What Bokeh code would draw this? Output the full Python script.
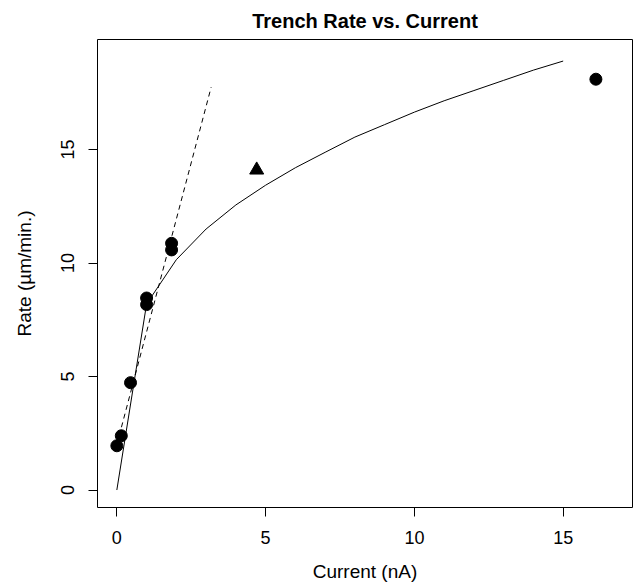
from bokeh.plotting import figure
from bokeh.models import FixedTicker, Range1d
from bokeh.embed import file_html
from bokeh.resources import INLINE

# Measured data (circles)
cur_pts = [0.0, 0.15, 0.46, 1.0, 1.0, 1.84, 1.84, 16.1]
rate_pts = [1.95, 2.39, 4.73, 8.46, 8.17, 10.87, 10.58, 18.1]
# Triangle point
cur_tri = [4.7]
rate_tri = [14.1]
# Fitted curve (solid)
fit_x = [0, 1, 2, 3, 4, 5, 6, 7, 8, 9, 10, 11, 12, 13, 14, 15]
fit_y = [0.0, 8.2, 10.15, 11.5, 12.56, 13.43, 14.2, 14.88, 15.55, 16.1,
         16.65, 17.15, 17.6, 18.05, 18.5, 18.9]
# Linear trend (dashed)
lin_x = [0.0, 3.17]
lin_y = [2.0, 17.75]

x_ticks = [0, 5, 10, 15]
y_ticks = [0, 5, 10, 15]

FONT = "Liberation Sans"

p = figure(width=637, height=584, output_backend="svg", toolbar_location=None,
           x_range=Range1d(-0.65, 17.33), y_range=Range1d(-0.77, 19.85),
           min_border_left=97, min_border_right=5, min_border_top=37,
           min_border_bottom=77, title="Trench Rate vs. Current")

p.title.align = "center"
p.title.text_font = FONT
p.title.text_font_style = "bold"
p.title.text_font_size = "20px"
p.title.text_color = "black"
p.title.standoff = 15

p.grid.visible = False
p.outline_line_color = "black"
p.outline_line_width = 1
p.background_fill_color = "white"
p.border_fill_color = "white"

for ax in (p.xaxis[0], p.yaxis[0]):
    ax.axis_line_color = None
    ax.major_tick_line_color = "black"
    ax.major_tick_out = 9
    ax.major_tick_in = 0
    ax.minor_tick_line_color = None
    ax.major_label_text_font = FONT
    ax.major_label_text_font_size = "18px"
    ax.major_label_text_color = "black"
    ax.axis_label_text_font = FONT
    ax.axis_label_text_font_size = "19px"
    ax.axis_label_text_font_style = "normal"
    ax.axis_label_text_color = "black"

p.xaxis.ticker = FixedTicker(ticks=x_ticks)
p.yaxis.ticker = FixedTicker(ticks=y_ticks)
p.xaxis.axis_label = "Current (nA)"
p.yaxis.axis_label = "Rate (µm/min.)"
p.yaxis.major_label_orientation = "vertical"
p.xaxis.major_label_standoff = 14
p.yaxis.major_label_standoff = 14
p.xaxis.axis_label_standoff = 14
p.yaxis.axis_label_standoff = 24

p.line(fit_x, fit_y, line_color="black", line_width=1)
p.line(lin_x, lin_y, line_color="black", line_width=1, line_dash="5 4")
p.scatter(cur_pts, rate_pts, marker="circle", size=12, fill_color="black",
          line_color="black")
p.scatter(cur_tri, rate_tri, marker="triangle", size=14, fill_color="black",
          line_color="black")

open("out.html", "w").write(file_html(p, INLINE))
